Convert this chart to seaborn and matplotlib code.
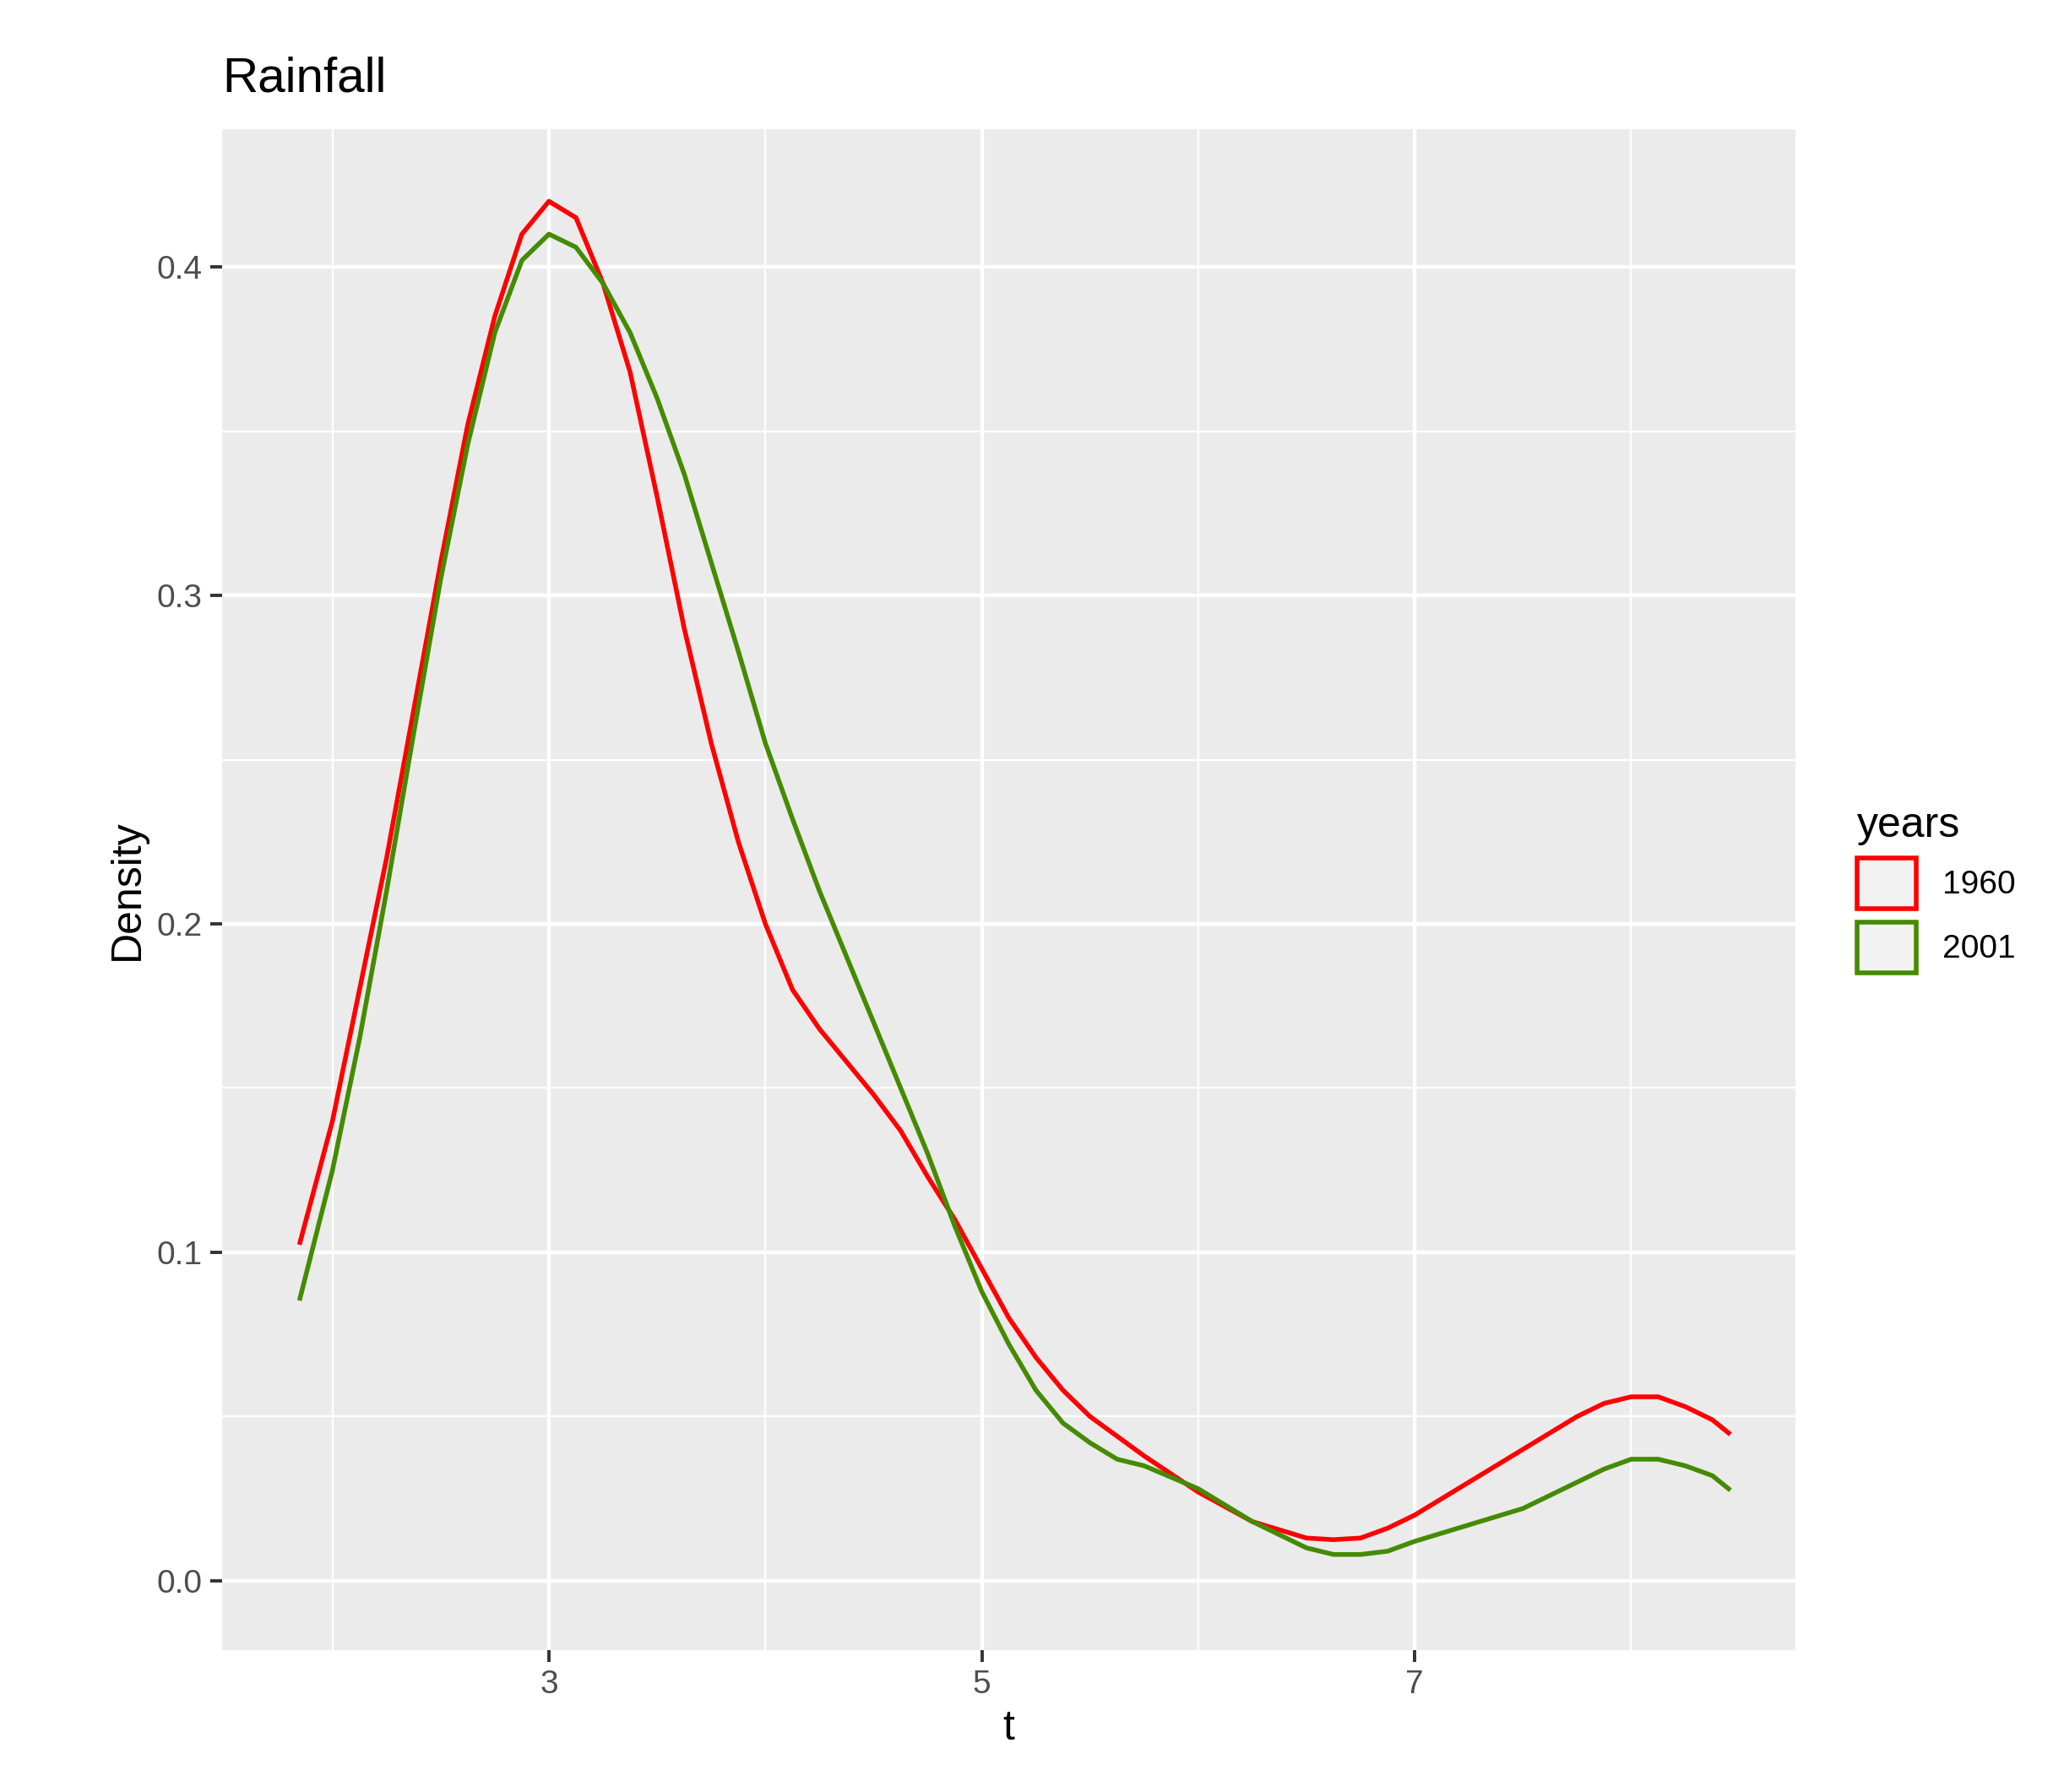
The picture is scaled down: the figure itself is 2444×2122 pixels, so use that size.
import numpy as np
import pandas as pd
import seaborn as sns
import matplotlib.pyplot as plt
from matplotlib.patches import Patch

# Density values
t = [1.85, 2.0, 2.125, 2.25, 2.375, 2.5, 2.625, 2.75, 2.875, 3.0, 3.125, 3.25, 3.375,
     3.5, 3.625, 3.75, 3.875, 4.0, 4.125, 4.25, 4.375, 4.5, 4.625, 4.75, 4.875, 5.0,
     5.125, 5.25, 5.375, 5.5, 5.625, 5.75, 6.0, 6.25, 6.5, 6.625, 6.75, 6.875, 7.0,
     7.25, 7.5, 7.75, 7.875, 8.0, 8.125, 8.25, 8.375, 8.45]
d1960 = [.103, .14, .18, .22, .265, .31, .352, .385, .41, .42, .415, .395, .368, .33,
         .29, .255, .225, .2, .18, .168, .158, .148, .137, .123, .11, .095, .08, .068,
         .058, .05, .044, .038, .027, .018, .013, .0125, .013, .016, .02, .03, .04, .05,
         .054, .056, .056, .053, .049, .045]
d2001 = [.086, .125, .165, .21, .258, .305, .346, .38, .402, .41, .406, .395, .38, .36,
         .337, .31, .283, .255, .232, .21, .19, .17, .15, .13, .108, .088, .072, .058,
         .048, .042, .037, .035, .028, .018, .01, .008, .008, .009, .012, .017, .022,
         .03, .034, .037, .037, .035, .032, .028]
years = ['1960', '2001']
colors = {'1960': '#FF0000', '2001': '#458B00'}

df = pd.concat([pd.DataFrame({'t': t, 'Density': d1960, 'years': '1960'}),
                pd.DataFrame({'t': t, 'Density': d2001, 'years': '2001'})])

plt.rcParams['font.family'] = ['Liberation Sans', 'DejaVu Sans']
fig = plt.figure(figsize=(12.22, 10.61), dpi=200)
ax = fig.add_axes([0.1076, 0.0794, 0.7624, 0.8486])
ax.set_facecolor('#EBEBEB')

ax.set_xticks([3, 5, 7])
ax.set_xticks([2, 4, 6, 8], minor=True)
ax.set_yticks([0.0, 0.1, 0.2, 0.3, 0.4])
ax.set_yticks([0.05, 0.15, 0.25, 0.35], minor=True)
ax.grid(which='major', color='white', lw=1.6)
ax.grid(which='minor', color='white', lw=0.8)
ax.set_axisbelow(True)

sns.lineplot(data=df, x='t', y='Density', hue='years', palette=colors, lw=2.0,
             ax=ax, legend=False)

ax.set_xlim(1.49, 8.76)
ax.set_ylim(-0.021, 0.442)
ax.set_yticklabels(['0.0', '0.1', '0.2', '0.3', '0.4'])
for s in ax.spines.values():
    s.set_visible(False)
ax.tick_params(which='major', color='#333333', length=5, width=1.4,
               labelcolor='#4D4D4D', labelsize=14)
ax.tick_params(which='minor', length=0)
ax.set_xlabel('t', fontsize=18)
ax.set_ylabel('Density', fontsize=18)
ax.set_title('Rainfall', loc='left', fontsize=21, pad=16)

handles = [Patch(facecolor='#F2F2F2', edgecolor=colors[y], lw=2.0, label=y) for y in years]
leg = ax.legend(handles=handles, title='years', loc='center left', bbox_to_anchor=(1.02, 0.5),
                frameon=False, fontsize=14, title_fontsize=18, handlelength=1.8,
                handleheight=2.0, handletextpad=0.8, labelspacing=0.4, alignment='left')
fig.savefig('out.png', dpi=200)
